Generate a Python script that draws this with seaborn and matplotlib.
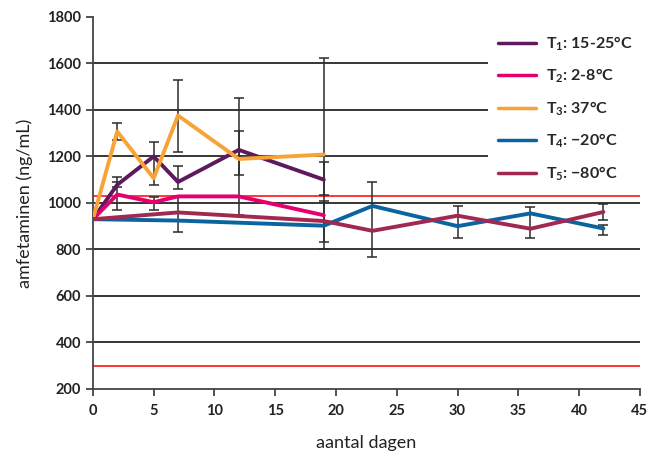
import pandas as pd
import seaborn as sns
import matplotlib.pyplot as plt
import numpy as np

nan = np.nan

# Data
labels = ['T$_1$: 15-25°C', 'T$_2$: 2-8°C', 'T$_3$: 37°C', 'T$_4$: −20°C', 'T$_5$: −80°C']
colors = ['#5e1a5c', '#e6006e', '#f7a335', '#0b64a0', '#a1284f']

days_short = [0, 2, 5, 7, 12, 19]
days_long = [0, 7, 19, 23, 30, 36, 42]

t1 = [930, 1078, 1200, 1090, 1228, 1100]
t2 = [930, 1036, 1003, 1028, 1028, 947]
t3 = [930, 1307, 1106, 1376, 1189, 1208]
t4 = [930, 924, 902, 987, 900, 955, 890]
t5 = [930, 959, 922, 880, 945, 889, 961]

# error bars (below, above)
t1_lo = [nan, 8, 124, 30, 278, 64]
t1_hi = [nan, 10, 64, 67, 222, 78]
t2_lo = [nan, 65, 32, nan, nan, 116]
t2_hi = [nan, 75, 21, nan, nan, 60]
t3_lo = [nan, 38, nan, 159, 68, 405]
t3_hi = [nan, 36, nan, 152, 121, 414]
t4_lo = [nan, nan, nan, 220, 53, nan, 30]
t4_hi = [nan, nan, nan, 103, 86, nan, 17]
t5_lo = [nan, 85, nan, nan, nan, 42, 35]
t5_hi = [nan, 69, nan, nan, nan, 92, 36]

limits = [1030, 300]

series = [
    (labels[0], days_short, t1, t1_lo, t1_hi),
    (labels[1], days_short, t2, t2_lo, t2_hi),
    (labels[2], days_short, t3, t3_lo, t3_hi),
    (labels[3], days_long, t4, t4_lo, t4_hi),
    (labels[4], days_long, t5, t5_lo, t5_hi),
]

rows = []
for name, d, v, lo, hi in series:
    for i in range(len(d)):
        rows.append({'dag': d[i], 'conc': v[i], 'serie': name, 'lo': lo[i], 'hi': hi[i]})
df = pd.DataFrame(rows)

sns.set_style('ticks')
plt.rcParams['font.family'] = ['Lato', 'DejaVu Sans']
plt.rcParams['mathtext.default'] = 'regular'

fig, ax = plt.subplots(figsize=(6.59, 4.57), dpi=100)
fig.subplots_adjust(left=0.141, right=0.971, bottom=0.149, top=0.963)

# error bars under the lines
for name, d, v, lo, hi in series:
    sub = df[(df['serie'] == name) & df['lo'].notna()]
    ax.errorbar(sub['dag'], sub['conc'], yerr=[sub['lo'], sub['hi']], fmt='none',
                ecolor='#2b2b2b', elinewidth=1.1, capsize=3.5, capthick=1.1, zorder=2)

sns.lineplot(data=df, x='dag', y='conc', hue='serie', hue_order=labels,
             palette=dict(zip(labels, colors)), linewidth=2.8, estimator=None,
             sort=False, ax=ax, zorder=3)

for lim in limits:
    ax.axhline(lim, color='#ff0000', lw=1.1, zorder=1)

ax.set_xlim(0, 45)
ax.set_ylim(200, 1800)
ax.set_xticks(range(0, 46, 5))
ax.set_yticks(range(200, 1801, 200))
ax.yaxis.grid(True, color='black', lw=1.1, zorder=0)
ax.set_axisbelow(True)
ax.yaxis.get_gridlines()[-1].set_visible(False)
ax.yaxis.get_gridlines()[0].set_visible(False)

for side in ['top', 'right']:
    ax.spines[side].set_visible(False)
for side in ['left', 'bottom']:
    ax.spines[side].set_color('#444444')
    ax.spines[side].set_linewidth(1.3)
ax.tick_params(axis='both', colors='#222222', labelsize=10.5, length=5, width=1.1)
ax.tick_params(axis='x', pad=6)
for lab in ax.get_xticklabels() + ax.get_yticklabels():
    lab.set_fontweight('bold')

ax.set_xlabel('aantal dagen', fontsize=13, color='#222222', labelpad=12)
ax.set_ylabel('amfetaminen (ng/mL)', fontsize=13, color='#222222', labelpad=10)

handles, labs = ax.get_legend_handles_labels()
leg = ax.legend(handles, labs, loc='upper right', bbox_to_anchor=(1.02, 1.0),
                frameon=True, fancybox=False, framealpha=1, edgecolor='none',
                facecolor='white', handlelength=2.4, handletextpad=0.65,
                labelspacing=0.88, borderpad=0.6, prop={'weight': 'bold', 'size': 11.5})
for line in leg.get_lines():
    line.set_linewidth(2.5)
leg.set_zorder(5)

fig.savefig('out.png', dpi=100)
